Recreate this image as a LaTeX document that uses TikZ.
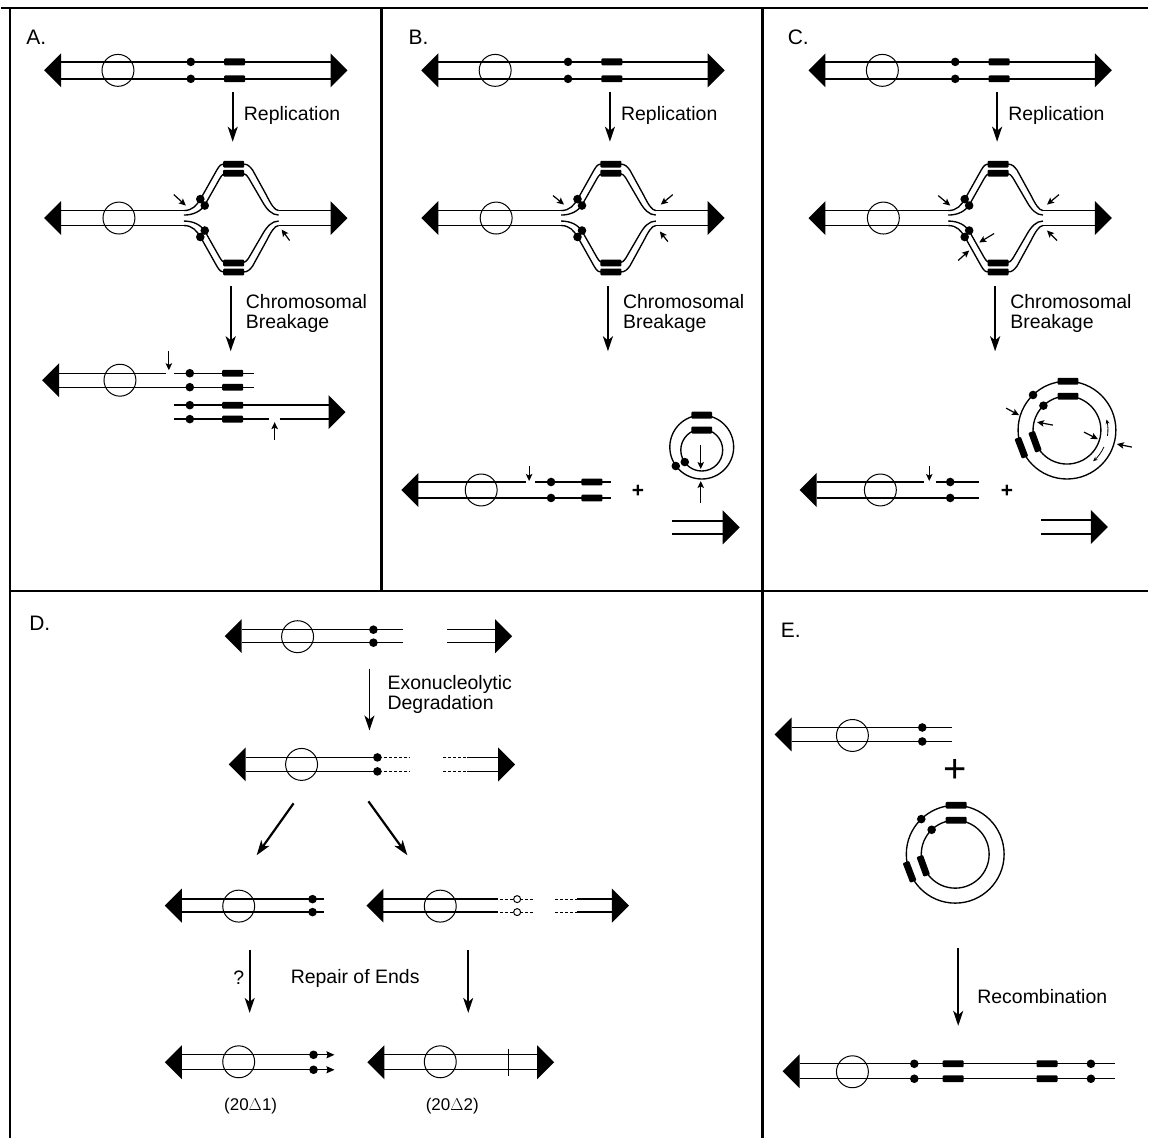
\documentclass[tikz,border=0pt]{standalone}
\usepackage{fontspec}
\setmainfont{Liberation Sans}
\usetikzlibrary{arrows.meta}

\tikzset{
  strand/.style={line width=1.35pt},
  cen/.style={line width=1pt},
  proc/.style={line width=2.2pt,-{Stealth[length=15pt,width=10pt,inset=4pt]}},
  nick/.style={line width=1.2pt,-{Stealth[length=7pt,width=6.5pt,inset=1.5pt]}},
  fine/.style={line width=0.8pt,-{Stealth[length=4.5pt,width=4pt]}},
  gap/.style={line width=1.2pt,dash pattern=on 2.5pt off 2.5pt},
  lbl/.style={anchor=west,inner sep=0pt,align=left,font=\fontsize{19.5}{20}\selectfont},
  tag/.style={anchor=west,inner sep=0pt,font=\fontsize{21}{21}\selectfont},
  % chromosome end
  telo/.pic={\fill (0,-17) -- (17,0) -- (0,17) -- cycle;},
  % marker gene
  gene/.pic={\fill[rounded corners=1pt] (-10.5,-3.4) rectangle (10.5,3.4);},
  % one replicated arm of the bubble, fork at the origin
  arm/.pic={
    \draw[strand] (0,-7.5) .. controls (9,-7.5) and (13,-13) .. (17,-19.5) -- (33,-48)
      .. controls (36,-53) and (37,-54) .. (41,-54) -- (60,-54)
      .. controls (64,-54) and (66,-52) .. (69,-48) -- (83,-22.5)
      .. controls (87,-14.5) and (91,-7.5) .. (95,-7.5);
    \draw[strand] (0,-3) .. controls (10,-3) and (17,-7) .. (21,-13) -- (36,-39.5)
      .. controls (38,-43) and (40,-45) .. (43,-45) -- (58,-45)
      .. controls (61,-45) and (63,-43) .. (65,-40) -- (79,-16)
      .. controls (83,-9) and (88,-3) .. (95,-3);
    \fill (16.5,-19) circle[radius=4.3] (21,-12.5) circle[radius=4.3];
    \fill[rounded corners=1pt] (39.5,-57.4) rectangle (60.5,-50.6) (39.5,-48.4) rectangle (60.5,-41.6);
  },
  % circular fragment, centre at the origin
  ring/.pic={
    \draw[strand] (0,0) circle[radius=49] (0,0) circle[radius=34];
    \fill[rounded corners=1pt] (-9.5,-52.4) rectangle (11.5,-45.6) (-9.5,-37.4) rectangle (11.5,-30.6);
    \fill[rounded corners=1pt,rotate around={111:(-45.7,17.6)}] (-56.2,14.2) rectangle (-35.2,21);
    \fill[rounded corners=1pt,rotate around={110:(-32,11.6)}] (-42.5,8.2) rectangle (-21.5,15);
    \fill (-34,-35.2) circle[radius=4.3] (-23.6,-24.5) circle[radius=4.3];
  }
}

% first two rows of panels A--C
\newcommand{\toprows}[1]{%
  % intact chromosome
  \pic[rotate=180] at (60,70.5) {telo};
  \pic at (330,70.5) {telo};
  \draw[strand] (60,62) -- (330,62) (60,79) -- (330,79);
  \draw[cen] (117,70.5) circle[radius=16];
  \fill (190,62) circle[radius=4.3] (190,79) circle[radius=4.3];
  \pic at (234,62) {gene};
  \pic at (234,79) {gene};
  % replication step
  \coordinate (rs#1) at (232,92);
  \coordinate (re#1) at (232,142);
  \draw[proc] (rs#1) -- (re#1);
  \node[lbl] (rep#1) at (243,116) {Replication};
  % chromosome with a replication bubble
  \pic[rotate=180] at (60,218.5) {telo};
  \pic at (330,218.5) {telo};
  \draw[strand] (60,211) -- (183,211) (60,226) -- (183,226)
    (278,211) -- (330,211) (278,226) -- (330,226);
  \draw[cen] (118,218.5) circle[radius=16];
  \pic at (183,218.5) {arm};
  \pic[yscale=-1] at (183,218.5) {arm};
  % breakage step
  \coordinate (bs#1) at (230,287);
  \coordinate (be#1) at (230,352);
  \draw[proc] (bs#1) -- (be#1);
  \node[lbl] (brk#1) at (245,314) {Chromosomal\\Breakage};
}

\begin{document}
\begin{tikzpicture}[x=1pt,y=-1pt]
\fill[white] (0,0) rectangle (1149,1140);
% frame
\draw[line width=2.4pt] (0,8) -- (1149,8) (9,8) -- (9,1140) (381,8) -- (381,592)
  (763,8) -- (763,1140) (9,592) -- (1149,592);

\node[tag] (tagA) at (25,37) {A.};
\node[tag] (tagB) at (408,37) {B.};
\node[tag] (tagC) at (788,37) {C.};
\node[tag] (tagD) at (28,625) {D.};
\node[tag] (tagE) at (781,632) {E.};

%%% A
\toprows{A}
\draw[nick] (173,195) -- (185,206);
\draw[nick] (289,241) -- (281,230);
% broken sister chromatids
\pic[rotate=180] at (58,381) {telo};
\draw[strand] (58,374) -- (165,374) (173,374) -- (253,374) (58,388) -- (253,388);
\draw[cen] (119,381) circle[radius=16];
\fill (189,374) circle[radius=4.3] (189,388) circle[radius=4.3];
\pic at (232,374) {gene};
\pic at (232,388) {gene};
\draw[nick] (168,352) -- (168,371);
\draw[strand] (173,406) -- (328,406) (173,420) -- (268,420) (279,420) -- (328,420);
\pic at (328,413) {telo};
\fill (189,406) circle[radius=4.3] (189,420) circle[radius=4.3];
\pic at (232,406) {gene};
\pic at (232,420) {gene};
\draw[nick] (274,441) -- (274,423);

%%% B
\begin{scope}[xshift=378pt]
  \toprows{B}
  \draw[nick] (175,196) -- (186,205);
  \draw[nick] (295,195) -- (283,205);
  \draw[nick] (290,242) -- (282,232);
\end{scope}
\pic[rotate=180] at (418,491) {telo};
\draw[strand] (418,483) -- (526,483) (535,483) -- (611,483) (418,499) -- (611,499);
\draw[cen] (481,491) circle[radius=16];
\fill (551,483) circle[radius=4.3] (551,499) circle[radius=4.3];
\pic at (592,483) {gene};
\pic at (592,499) {gene};
\draw[nick] (529,467) -- (529,482);
\node[font=\fontsize{21}{21}\selectfont\bfseries] (plusB) at (638,492) {+};
% small circle
\draw[strand] (702,448) circle[radius=32] (702,451) circle[radius=21];
\fill[rounded corners=1pt] (691.5,412.6) rectangle (712.5,419.4) (691.5,427.6) rectangle (712.5,434.4);
\fill (676,467) circle[radius=4.3] (685,463) circle[radius=4.3];
\draw[nick] (701,446) -- (701,470);
\draw[nick] (701,504) -- (701,482);
\draw[strand] (672,522) -- (723,522) (672,535) -- (723,535);
\pic at (723,528.5) {telo};

%%% C
\begin{scope}[xshift=766pt]
  \toprows{C}
  \draw[nick] (173,196) -- (185,206);
  \draw[nick] (294,195) -- (282,205);
  \draw[nick] (292,241) -- (282,231);
  \draw[nick] (229,234) -- (214,243);
  \draw[nick] (193,261) -- (204,251);
\end{scope}
\pic[rotate=180] at (817,491) {telo};
\draw[strand] (817,483) -- (925,483) (937,483) -- (980,483) (817,499) -- (980,499);
\draw[cen] (881,491) circle[radius=16];
\fill (951,483) circle[radius=4.3] (951,499) circle[radius=4.3];
\draw[nick] (930,467) -- (930,482);
\node[font=\fontsize{21}{21}\selectfont\bfseries] (plusC) at (1008,492) {+};
\pic at (1068,431) {ring};
\draw[nick] (1007,409) -- (1020,416);
\draw[nick] (1054,426) -- (1038,423);
\draw[nick] (1085,433) -- (1099,440);
\draw[nick] (1133,448) -- (1118,445);
\draw[fine] (1108.6,436.7) arc[start angle=8,end angle=-15,radius=41];
\draw[fine] (1105,448) arc[start angle=25,end angle=50,radius=41];
\draw[strand] (1042,521) -- (1092,521) (1042,535) -- (1092,535);
\pic at (1092,528) {telo};

%%% D
\pic[rotate=180] at (241,637.5) {telo};
\draw[strand] (241,631) -- (403,631) (241,644) -- (403,644);
\draw[cen] (297,638) circle[radius=16];
\fill (373,631) circle[radius=4.3] (373,644) circle[radius=4.3];
\draw[strand] (447,631) -- (495,631) (447,644) -- (495,644);
\pic at (495,637.5) {telo};
\coordinate (xs) at (369,670);
\coordinate (xe) at (369,732);
\draw[proc,line width=1.6pt] (xs) -- (xe);
\node[lbl] (exo) at (387,696) {Exonucleolytic\\Degradation};
% after degradation
\pic[rotate=180] at (245,766) {telo};
\draw[strand] (245,759) -- (377,759) (245,773) -- (377,773);
\draw[gap] (379,759) -- (410,759) (379,773) -- (410,773);
\draw[cen] (301,766) circle[radius=16];
\fill (377,759) circle[radius=4.3] (377,773) circle[radius=4.3];
\draw[gap] (443,759) -- (467,759) (443,773) -- (467,773);
\draw[strand] (467,759) -- (498,759) (467,773) -- (498,773);
\pic at (498,766) {telo};
\coordinate (ls) at (293,805);
\coordinate (le) at (256,857);
\coordinate (rs) at (368,803);
\coordinate (re) at (407,857);
\draw[proc] (ls) -- (le);
\draw[proc] (rs) -- (re);
% two outcomes
\pic[rotate=180] at (181,907.5) {telo};
\draw[strand] (181,901) -- (323,901) (181,914) -- (323,914);
\draw[cen] (238,908) circle[radius=16];
\fill (312,901) circle[radius=4.3] (312,914) circle[radius=4.3];
\pic[rotate=180] at (383,907.5) {telo};
\draw[strand] (383,901) -- (498,901) (383,914) -- (498,914);
\draw[cen] (440,908) circle[radius=16];
\draw[gap] (500,901) -- (533,901) (500,914) -- (533,914);
\filldraw[fill=white,line width=1pt] (517,901) circle[radius=3.5] (517,914) circle[radius=3.5];
\draw[gap] (555,901) -- (577,901) (555,914) -- (577,914);
\draw[strand] (577,901) -- (612,901) (577,914) -- (612,914);
\pic at (612,907.5) {telo};
\coordinate (qs) at (249,952);
\coordinate (qe) at (249,1015);
\coordinate (ps) at (468,952);
\coordinate (pe) at (468,1015);
\draw[proc,line width=1.8pt] (qs) -- (qe);
\draw[proc,line width=1.8pt] (ps) -- (pe);
\node[lbl,anchor=center] (qmark) at (238,980) {?};
\node[lbl] (repair) at (290,980) {Repair of Ends};
% repaired chromosomes
\pic[rotate=180] at (181,1064.5) {telo};
\draw[strand,-{Stealth[length=8pt,width=7pt,inset=1pt]}] (181,1057) -- (334,1057);
\draw[strand,-{Stealth[length=8pt,width=7pt,inset=1pt]}] (181,1072) -- (334,1072);
\draw[cen] (238,1064) circle[radius=16];
\fill (313,1057) circle[radius=4.3] (313,1072) circle[radius=4.3];
\pic[rotate=180] at (384,1064.5) {telo};
\draw[strand] (384,1057) -- (537,1057) (384,1072) -- (537,1072);
\draw[cen] (440,1064) circle[radius=16];
\draw[line width=1.1pt] (508,1051) -- (508,1078);
\pic at (537,1064.5) {telo};
\node[font=\fontsize{17}{17}\selectfont] (d1) at (250,1108) {(20$\Delta$1)};
\node[font=\fontsize{17}{17}\selectfont] (d2) at (452,1108) {(20$\Delta$2)};

%%% E
\pic[rotate=180] at (792,736) {telo};
\draw[strand] (792,729) -- (953,729) (792,743) -- (953,743);
\draw[cen] (853,737) circle[radius=16];
\fill (923,729) circle[radius=4.3] (923,743) circle[radius=4.3];
\node[font=\fontsize{40}{40}\selectfont] (plusE) at (956,773) {+};
\pic at (956,856) {ring};
\coordinate (cs) at (959,950);
\coordinate (ce) at (959,1028);
\draw[proc] (cs) -- (ce);
\node[lbl] (rec) at (978,999) {Recombination};
\pic[rotate=180] at (800,1073.5) {telo};
\draw[strand] (800,1066) -- (1116,1066) (800,1081) -- (1116,1081);
\draw[cen] (853,1074) circle[radius=16];
\fill (915,1066) circle[radius=4.3] (915,1081) circle[radius=4.3] (1092,1066) circle[radius=4.3] (1092,1081) circle[radius=4.3];
\pic at (954,1066) {gene};
\pic at (954,1081) {gene};
\pic at (1048,1066) {gene};
\pic at (1048,1081) {gene};
\end{tikzpicture}
\end{document}
